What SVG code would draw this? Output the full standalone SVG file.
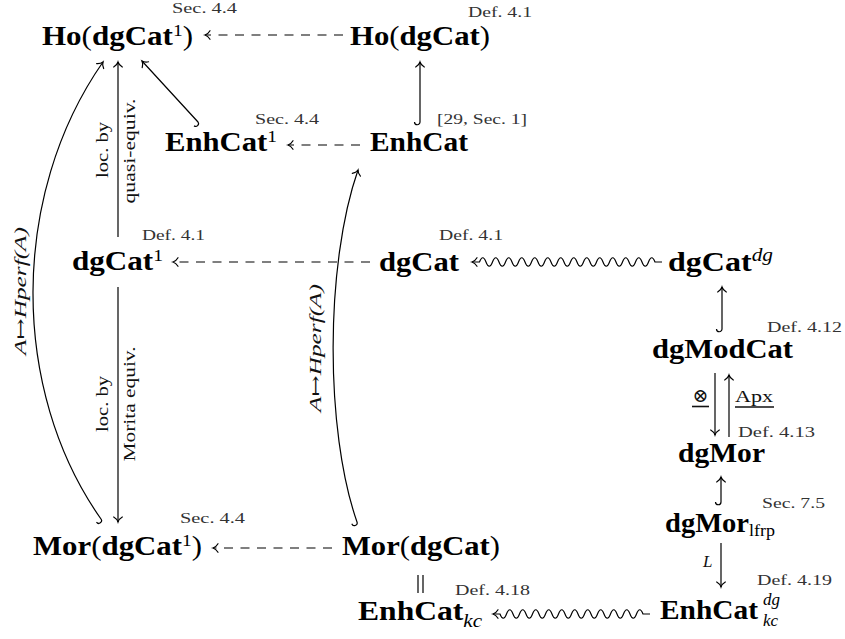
<svg xmlns="http://www.w3.org/2000/svg" width="845" height="639" viewBox="0 0 845 639">
<style>
.n{font-family:"Liberation Serif","Times New Roman",serif;font-size:27px;font-weight:bold;fill:#000}
.r{font-weight:normal}
.sup{font-size:17px;font-weight:normal}
.it{font-style:italic}
.ref{font-family:"Liberation Serif",serif;font-size:15.5px;fill:#333}
.lab{font-family:"Liberation Serif","DejaVu Serif",serif;font-size:16px;fill:#111}
.math{font-family:"Liberation Serif","DejaVu Serif",serif;font-size:17px;font-style:italic;fill:#111}
.e{fill:none;stroke:#000;stroke-width:1.2;stroke-linecap:butt}
.a{marker-end:url(#to)}
.d{stroke-dasharray:9 7.5}
.ul{stroke:#111;stroke-width:1.6}
</style>
<defs>
<marker id="to" markerUnits="userSpaceOnUse" markerWidth="12" markerHeight="12" refX="0" refY="0" orient="auto" overflow="visible">
<path d="M-5,-4.3 C-3.6,-1.9 -1.3,-0.4 0,0 C-1.3,0.4 -3.6,1.9 -5,4.3" fill="none" stroke="#000" stroke-width="1.2" stroke-linecap="round"/>
</marker>
</defs>

<g id="connectors">
<path class="e a d" d="M343,35 H205"/>
<path class="e a d" d="M360,145 H288"/>
<path class="e a d" d="M370,262 H173"/>
<path class="e a d" d="M332,548 H213"/>
<path class="e a" d="M662,262 H655 q-3.25,-8.5 -6.5,0 t-6.5,0 t-6.5,0 t-6.5,0 t-6.5,0 t-6.5,0 t-6.5,0 t-6.5,0 t-6.5,0 t-6.5,0 t-6.5,0 t-6.5,0 t-6.5,0 t-6.5,0 t-6.5,0 t-6.5,0 t-6.5,0 t-6.5,0 t-6.5,0 t-6.5,0 t-6.5,0 t-6.5,0 t-6.5,0 t-6.5,0 t-6.5,0 t-6.5,0 t-6.5,0 H472"/>
<path class="e a" d="M650,614 H643 q-3.25,-8.5 -6.5,0 t-6.5,0 t-6.5,0 t-6.5,0 t-6.5,0 t-6.5,0 t-6.5,0 t-6.5,0 t-6.5,0 t-6.5,0 t-6.5,0 t-6.5,0 t-6.5,0 t-6.5,0 t-6.5,0 t-6.5,0 t-6.5,0 t-6.5,0 t-6.5,0 t-6.5,0 t-6.5,0 t-6.5,0 H493"/>
<path class="e a" d="M414.5,122 A2.75,2.75 0 0 0 420,122 V62"/>
<path class="e a" d="M716.5,329 A2.75,2.75 0 0 0 722,329 V287"/>
<path class="e a" d="M715.5,502 A2.75,2.75 0 0 0 721,502 V477"/>
<path class="e a" d="M194,125.7 A2.75,2.75 0 0 0 198,122 L142,61"/>
<path class="e a" d="M118,237 V62"/>
<path class="e a" d="M118,287 V522"/>
<path class="e a" d="M96.5,522.2 A2.75,2.75 0 0 0 101,519 C10,390 10,195 103,62"/>
<path class="e a" d="M351.8,523.8 A2.75,2.75 0 0 0 357,522 C325,430 325,265 358,170"/>
<path class="e a" d="M715,373 V435"/>
<path class="e a" d="M729,437 V375"/>
<path class="e a" d="M721,543 V587"/>
<path class="e" d="M418,575 V593 M423,575 V593"/>
<text class="lab" transform="translate(107.5,150) rotate(-90)" text-anchor="middle" textLength="56" lengthAdjust="spacingAndGlyphs">loc. by</text>
<text class="lab" transform="translate(135,151) rotate(-90)" text-anchor="middle" textLength="105" lengthAdjust="spacingAndGlyphs">quasi-equiv.</text>
<text class="lab" transform="translate(107.5,404) rotate(-90)" text-anchor="middle" textLength="56" lengthAdjust="spacingAndGlyphs">loc. by</text>
<text class="lab" transform="translate(135,404) rotate(-90)" text-anchor="middle" textLength="115" lengthAdjust="spacingAndGlyphs">Morita equiv.</text>
<text class="math" transform="translate(25.5,291) rotate(-90)" text-anchor="middle" textLength="128" lengthAdjust="spacingAndGlyphs">A↦Hperf(A)</text>
<text class="math" transform="translate(320.5,348) rotate(-90)" text-anchor="middle" textLength="128" lengthAdjust="spacingAndGlyphs">A↦Hperf(A)</text>
<text class="lab" x="700.5" y="402" text-anchor="middle" style="font-family:'DejaVu Serif',serif;font-size:19px">⊗</text>
<line class="ul" x1="692" y1="406.5" x2="709" y2="406.5"/>
<text class="lab" x="735" y="402" textLength="38" lengthAdjust="spacingAndGlyphs" style="font-size:17px">Apx</text>
<line class="ul" x1="735" y1="407" x2="774" y2="407"/>
<text class="math" x="703" y="567">L</text>
</g>

<g id="refs">
<text class="ref" x="172" y="13" textLength="65" lengthAdjust="spacingAndGlyphs">Sec. 4.4</text>
<text class="ref" x="468" y="17" textLength="64" lengthAdjust="spacingAndGlyphs">Def. 4.1</text>
<text class="ref" x="255" y="124" textLength="64" lengthAdjust="spacingAndGlyphs">Sec. 4.4</text>
<text class="ref" x="437" y="124" textLength="90" lengthAdjust="spacingAndGlyphs">[29, Sec. 1]</text>
<text class="ref" x="142" y="240" textLength="63" lengthAdjust="spacingAndGlyphs">Def. 4.1</text>
<text class="ref" x="439" y="240" textLength="64" lengthAdjust="spacingAndGlyphs">Def. 4.1</text>
<text class="ref" x="767" y="332" textLength="75" lengthAdjust="spacingAndGlyphs">Def. 4.12</text>
<text class="ref" x="738" y="437" textLength="77" lengthAdjust="spacingAndGlyphs">Def. 4.13</text>
<text class="ref" x="762" y="508" textLength="63" lengthAdjust="spacingAndGlyphs">Sec. 7.5</text>
<text class="ref" x="180" y="523" textLength="65" lengthAdjust="spacingAndGlyphs">Sec. 4.4</text>
<text class="ref" x="757" y="585" textLength="75" lengthAdjust="spacingAndGlyphs">Def. 4.19</text>
<text class="ref" x="455" y="595" textLength="75" lengthAdjust="spacingAndGlyphs">Def. 4.18</text>
</g>

<g id="HoDgCat1"><text class="n" x="42" y="45" textLength="151" lengthAdjust="spacingAndGlyphs">Ho<tspan class="r">(</tspan>dgCat<tspan class="sup" dy="-9">1</tspan><tspan class="r" dy="9">)</tspan></text></g>
<g id="HoDgCat"><text class="n" x="350" y="45" textLength="140" lengthAdjust="spacingAndGlyphs">Ho<tspan class="r">(</tspan>dgCat<tspan class="r">)</tspan></text></g>
<g id="EnhCat1"><text class="n" x="165" y="151" textLength="112" lengthAdjust="spacingAndGlyphs">EnhCat<tspan class="sup" dy="-9">1</tspan></text></g>
<g id="EnhCat"><text class="n" x="370" y="151" textLength="98" lengthAdjust="spacingAndGlyphs">EnhCat</text></g>
<g id="dgCat1"><text class="n" x="72" y="270" textLength="91" lengthAdjust="spacingAndGlyphs">dgCat<tspan class="sup" dy="-9">1</tspan></text></g>
<g id="dgCat"><text class="n" x="379" y="271" textLength="80" lengthAdjust="spacingAndGlyphs">dgCat</text></g>
<g id="dgCatdg"><text class="n" x="668" y="271" textLength="105" lengthAdjust="spacingAndGlyphs">dgCat<tspan class="sup it" style="font-size:18px" dy="-10">dg</tspan></text></g>
<g id="dgModCat"><text class="n" x="652" y="358" textLength="141" lengthAdjust="spacingAndGlyphs">dgModCat</text></g>
<g id="dgMor"><text class="n" x="678" y="462" textLength="87" lengthAdjust="spacingAndGlyphs">dgMor</text></g>
<g id="dgMorLfrp"><text class="n" x="665" y="532" textLength="110" lengthAdjust="spacingAndGlyphs">dgMor<tspan class="sup" dy="4">lfrp</tspan></text></g>
<g id="MorDgCat1"><text class="n" x="33" y="555" textLength="169" lengthAdjust="spacingAndGlyphs">Mor<tspan class="r">(</tspan>dgCat<tspan class="sup" dy="-9">1</tspan><tspan class="r" dy="9">)</tspan></text></g>
<g id="MorDgCat"><text class="n" x="342" y="555" textLength="158" lengthAdjust="spacingAndGlyphs">Mor<tspan class="r">(</tspan>dgCat<tspan class="r">)</tspan></text></g>
<g id="EnhCatKc"><text class="n" x="358" y="620" textLength="124" lengthAdjust="spacingAndGlyphs">EnhCat<tspan class="sup it" style="font-size:18px" dy="7">kc</tspan></text></g>
<g id="EnhCatKcDg"><text class="n" x="660" y="619"><tspan textLength="98" lengthAdjust="spacingAndGlyphs">EnhCat</tspan><tspan class="sup it" style="font-size:17px" x="763" y="604.5">dg</tspan><tspan class="sup it" style="font-size:17px" x="763" y="626">kc</tspan></text></g>
</svg>
